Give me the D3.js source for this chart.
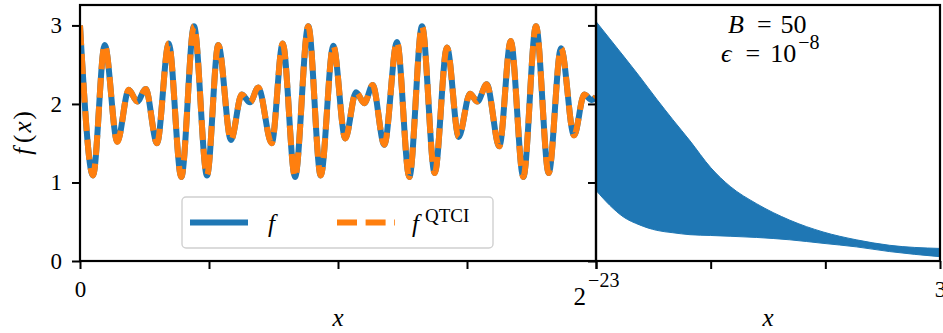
<!DOCTYPE html>
<html>
<head>
<meta charset="utf-8">
<script src="https://cdn.jsdelivr.net/npm/d3@7"></script>
<style>
  body { margin: 0; background: #fff; }
  svg { display: block; }
  svg text { font-family: "Liberation Serif", "Times New Roman", "DejaVu Serif", serif; fill: #000; }
</style>
</head>
<body>
<div id="chart"></div>
<script>

// DATA
// ==============================

// left panel: x as a fraction of 2^-23, f(x) at each local max / min of the curve
var leftT = [0, 0.0252, 0.0479, 0.0723, 0.0944, 0.111, 0.1273, 0.1492, 0.1719, 0.1963,
  0.2209, 0.2461, 0.268, 0.2926, 0.3134, 0.3295, 0.3455, 0.3715, 0.3928, 0.4167,
  0.4424, 0.4665, 0.4909, 0.5141, 0.5349, 0.551, 0.5672, 0.5897, 0.6143, 0.6382,
  0.6628, 0.6874, 0.7112, 0.7339, 0.7558, 0.77, 0.7882, 0.8126, 0.8347, 0.8591,
  0.8837, 0.9083, 0.9322, 0.9574, 0.9773, 0.9917, 1.0];
var leftF = [3.0, 1.09, 2.75, 1.52, 2.18, 2.03, 2.19, 1.50, 2.77, 1.07,
  2.99, 1.09, 2.75, 1.54, 2.12, 2.02, 2.21, 1.50, 2.77, 1.07,
  2.99, 1.09, 2.74, 1.56, 2.15, 2.01, 2.24, 1.48, 2.79, 1.07,
  2.99, 1.12, 2.72, 1.58, 2.13, 2.03, 2.25, 1.46, 2.80, 1.07,
  2.99, 1.12, 2.71, 1.60, 2.12, 2.05, 2.09];

// right panel: envelope of the fast oscillation from 2^-23 (~0) to 3
var rightX = [0, 0.12, 0.24, 0.38, 0.53, 0.67, 0.82, 1.0, 1.17, 1.4, 1.69, 1.98, 2.27, 2.56, 3.0];
var rightUpper = [3.05, 2.83, 2.61, 2.35, 2.06, 1.80, 1.53, 1.19, 0.95, 0.73, 0.52, 0.37, 0.27, 0.20, 0.16];
var rightLower = [0.90, 0.71, 0.56, 0.46, 0.39, 0.36, 0.335, 0.325, 0.315, 0.30, 0.27, 0.225, 0.18, 0.12, 0.055];

var yTickValues = [0, 1, 2, 3];
var leftXTickValues = [0, 0.25, 0.5, 0.75, 1];
var rightXTickValues = [0, 1, 2, 3];

var blue = "#1f77b4";
var orange = "#ff7f0e";
var serif = "'Liberation Serif', 'Times New Roman', 'DejaVu Serif', serif";

// SETUP
// ==============================
var svgWidth = 943;
var svgHeight = 333;

var plotTop = 5;
var plotBottom = 261;
var leftStart = 80;
var split = 596;
var rightEnd = 940;

var svg = d3.select("#chart")
  .append("svg")
  .attr("width", svgWidth)
  .attr("height", svgHeight)
  .attr("font-family", serif);

var yScale = d3.scaleLinear().domain([0, 3.26]).range([plotBottom, plotTop]);
var xLeft = d3.scaleLinear().domain([0, 1]).range([leftStart, split]);
var xRight = d3.scaleLinear().domain([0, 3]).range([split, rightEnd]);

var defs = svg.append("defs");
defs.append("clipPath").attr("id", "clipLeft")
  .append("rect")
  .attr("x", leftStart).attr("y", plotTop)
  .attr("width", split - leftStart).attr("height", plotBottom - plotTop);
defs.append("clipPath").attr("id", "clipRight")
  .append("rect")
  .attr("x", split).attr("y", plotTop)
  .attr("width", rightEnd - split).attr("height", plotBottom - plotTop);

// LEFT PANEL
// ==============================
var leftData = leftT.map(function (t, i) { return { t: t, f: leftF[i] }; });

var curve = d3.line()
  .x(d => xLeft(d.t))
  .y(d => yScale(d.f))
  .curve(d3.curveMonotoneX);

var leftGroup = svg.append("g").attr("clip-path", "url(#clipLeft)");

leftGroup.append("path")
  .datum(leftData)
  .attr("d", curve)
  .attr("fill", "none")
  .attr("stroke", blue)
  .attr("stroke-width", 6)
  .attr("stroke-linejoin", "round");

leftGroup.append("path")
  .datum(leftData)
  .attr("d", curve)
  .attr("fill", "none")
  .attr("stroke", orange)
  .attr("stroke-width", 6)
  .attr("stroke-dasharray", "20,8.6");

// legend
var legend = svg.append("g");
legend.append("rect")
  .attr("x", 182).attr("y", 197)
  .attr("width", 311).attr("height", 51)
  .attr("rx", 4)
  .attr("fill", "#fff").attr("fill-opacity", 0.8)
  .attr("stroke", "#d0d0d0").attr("stroke-width", 1.4);

legend.append("line")
  .attr("x1", 190).attr("x2", 248).attr("y1", 222.5).attr("y2", 222.5)
  .attr("stroke", blue).attr("stroke-width", 6);
legend.append("line")
  .attr("x1", 337).attr("x2", 395).attr("y1", 222.5).attr("y2", 222.5)
  .attr("stroke", orange).attr("stroke-width", 6)
  .attr("stroke-dasharray", "20,8.6");

legend.append("text")
  .attr("x", 268).attr("y", 232)
  .style("font-size", "25px").style("font-style", "italic")
  .text("f");
var qLabel = legend.append("text")
  .attr("x", 412).attr("y", 232)
  .style("font-size", "25px");
qLabel.append("tspan").style("font-style", "italic").text("f");
qLabel.append("tspan").attr("dx", 6).attr("dy", -10).style("font-size", "19px").text("QTCI");

// RIGHT PANEL
// ==============================
var rightData = rightX.map(function (x, i) {
  return { x: x, lo: rightLower[i], hi: rightUpper[i] };
});

var band = d3.area()
  .x(d => xRight(d.x))
  .y0(d => yScale(d.lo))
  .y1(d => yScale(d.hi))
  .curve(d3.curveMonotoneX);

svg.append("g").attr("clip-path", "url(#clipRight)")
  .append("path")
  .datum(rightData)
  .attr("d", band)
  .attr("fill", blue)
  .attr("stroke", blue)
  .attr("stroke-width", 1);

// annotation
var line1 = svg.append("text").attr("x", 728).attr("y", 33)
  .style("font-size", "26px");
line1.append("tspan").style("font-style", "italic").text("B");
line1.append("tspan").attr("dx", 13).text("=");
line1.append("tspan").attr("dx", 9).text("50");

var line2 = svg.append("text").attr("x", 721).attr("y", 62)
  .style("font-size", "26px");
line2.append("tspan").style("font-style", "italic").text("\u03f5");
line2.append("tspan").attr("dx", 14).text("=");
line2.append("tspan").attr("dx", 10).text("10");
line2.append("tspan").attr("dx", 2).attr("dy", -13).style("font-size", "20px").text("\u22128");

// AXES
// ==============================
function styleAxis(g) {
  g.attr("font-family", serif).attr("font-size", null);
  g.select(".domain").remove();
  g.selectAll(".tick line").attr("stroke", "#000").attr("stroke-width", 2);
  g.selectAll(".tick text").attr("fill", "#000").style("font-size", "23px");
}

var leftYAxis = d3.axisLeft(yScale)
  .tickValues(yTickValues).tickSize(8).tickSizeOuter(0).tickPadding(10)
  .tickFormat(d3.format("d"));
svg.append("g").attr("transform", `translate(${leftStart},0)`)
  .call(leftYAxis).call(styleAxis);

var rightYAxis = d3.axisLeft(yScale)
  .tickValues(yTickValues).tickSize(8).tickSizeOuter(0).tickFormat("");
svg.append("g").attr("transform", `translate(${split},0)`)
  .call(rightYAxis).call(styleAxis);

var leftXAxis = d3.axisBottom(xLeft)
  .tickValues(leftXTickValues).tickSize(8).tickSizeOuter(0).tickPadding(12)
  .tickFormat(d => d === 0 ? "0" : (d === 1 ? "2" : ""));
var leftXG = svg.append("g").attr("transform", `translate(0,${plotBottom})`)
  .call(leftXAxis).call(styleAxis);

// turn the last label into 2^-23
leftXG.selectAll(".tick text")
  .filter(d => d === 1)
  .attr("dy", null)
  .attr("y", 305 - plotBottom)
  .style("font-size", "25px")
  .text(null)
  .call(function (t) {
    t.append("tspan").text("2");
    t.append("tspan").attr("dx", 2).attr("dy", -18).style("font-size", "20px").text("\u221223");
  });

var rightXAxis = d3.axisBottom(xRight)
  .tickValues(rightXTickValues).tickSize(8).tickSizeOuter(0).tickPadding(12)
  .tickFormat(d => d === 3 ? "3" : "");
svg.append("g").attr("transform", `translate(0,${plotBottom})`)
  .call(rightXAxis).call(styleAxis);

// frames
svg.append("rect")
  .attr("x", leftStart).attr("y", plotTop)
  .attr("width", split - leftStart).attr("height", plotBottom - plotTop)
  .attr("fill", "none").attr("stroke", "#000").attr("stroke-width", 2.2);
svg.append("rect")
  .attr("x", split).attr("y", plotTop)
  .attr("width", rightEnd - split).attr("height", plotBottom - plotTop)
  .attr("fill", "none").attr("stroke", "#000").attr("stroke-width", 2.2);

// axis labels
svg.append("text")
  .attr("x", xLeft(0.5)).attr("y", 326)
  .attr("text-anchor", "middle")
  .style("font-size", "25px").style("font-style", "italic")
  .text("x");
svg.append("text")
  .attr("x", xRight(1.5)).attr("y", 326)
  .attr("text-anchor", "middle")
  .style("font-size", "25px").style("font-style", "italic")
  .text("x");

var yLabel = svg.append("text")
  .attr("transform", `translate(31,${(plotTop + plotBottom) / 2}) rotate(-90)`)
  .attr("text-anchor", "middle")
  .style("font-size", "25px");
yLabel.append("tspan").style("font-style", "italic").text("f");
yLabel.append("tspan").attr("dx", 5).text("(");
yLabel.append("tspan").attr("dx", 2).style("font-style", "italic").text("x");
yLabel.append("tspan").attr("dx", 2).text(")");

</script>
</body>
</html>
